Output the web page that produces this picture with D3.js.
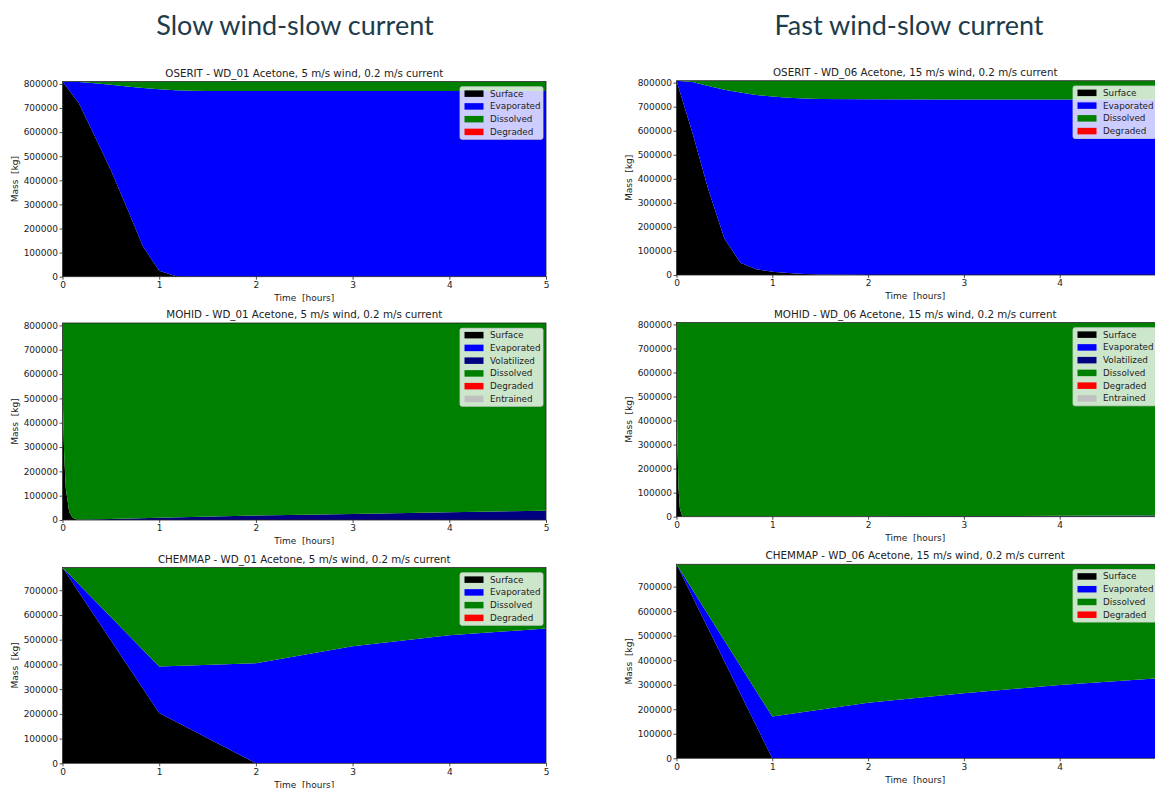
<!DOCTYPE html>
<html>
<head>
<meta charset="utf-8">
<script src="https://cdn.jsdelivr.net/npm/d3@7"></script>
<style>
  html, body { margin: 0; padding: 0; background: #fff; }
  svg { display: block; }
  .tick text { font-family: "DejaVu Sans", sans-serif; fill: #222; }
</style>
</head>
<body>
<svg id="chart" width="1155" height="788"></svg>
<script>
// ---------------- DATA ----------------
const columnHeaders = ["Slow wind-slow current", "Fast wind-slow current"];
const hourTicks = [0, 1, 2, 3, 4, 5];
const massTicks = [0, 100000, 200000, 300000, 400000, 500000, 600000, 700000, 800000];

const keys4 = ["Surface", "Evaporated", "Dissolved", "Degraded"];
const keys6 = ["Surface", "Evaporated", "Volatilized", "Dissolved", "Degraded", "Entrained"];
const seriesColors = {
  Surface: "#000000", Evaporated: "#0000ff", Volatilized: "#000080",
  Dissolved: "#008000", Degraded: "#ff0000", Entrained: "#c0c0c0"
};

// OSERIT - WD_01 (5 m/s wind)
const oseritSlowTime        = [0, 0.167, 0.333, 0.5, 0.667, 0.833, 1, 1.167, 1.333, 1.5, 2, 3, 4, 5];
const oseritSlowSurface     = [810000, 722000, 584000, 443000, 285000, 125000, 25000, 3000, 0, 0, 0, 0, 0, 0];
const oseritSlowEvaporated  = [0, 86000, 219000, 353000, 504000, 658000, 753000, 771000, 772000, 771000, 771000, 771000, 771000, 771000];
const oseritSlowDissolved   = [0, 2000, 7000, 14000, 21000, 27000, 32000, 36000, 38000, 39000, 39000, 39000, 39000, 39000];
const oseritSlowDegraded    = [0, 0, 0, 0, 0, 0, 0, 0, 0, 0, 0, 0, 0, 0];

// OSERIT - WD_06 (15 m/s wind)
const oseritFastTime        = [0, 0.167, 0.333, 0.5, 0.667, 0.833, 1, 1.167, 1.333, 1.5, 2, 3, 4, 5];
const oseritFastSurface     = [808000, 590000, 355000, 152000, 51000, 24000, 14000, 8000, 4000, 2000, 0, 0, 0, 0];
const oseritFastEvaporated  = [0, 213000, 431000, 618000, 708000, 725000, 728000, 729000, 730000, 730000, 731000, 730000, 730000, 730000];
const oseritFastDissolved   = [0, 5000, 22000, 38000, 49000, 59000, 66000, 71000, 74000, 76000, 77000, 78000, 78000, 78000];
const oseritFastDegraded    = [0, 0, 0, 0, 0, 0, 0, 0, 0, 0, 0, 0, 0, 0];

// MOHID - WD_01
const mohidSlowTime         = [0, 0.017, 0.034, 0.069, 0.103, 0.137, 0.17, 0.5, 1, 2, 3, 4, 5];
const mohidSlowSurface      = [540000, 270000, 130000, 34000, 10000, 3000, 0, 0, 0, 0, 0, 0, 0];
const mohidSlowEvaporated   = [0, 0, 0, 0, 0, 0, 0, 0, 0, 0, 0, 0, 0];
const mohidSlowVolatilized  = [0, 0, 0, 0, 500, 1000, 1500, 4000, 9000, 18000, 25000, 32000, 38000];
const mohidSlowDissolved    = [270000, 540000, 680000, 776000, 799500, 806000, 808500, 806000, 801000, 792000, 785000, 778000, 772000];
const mohidSlowDegraded     = [0, 0, 0, 0, 0, 0, 0, 0, 0, 0, 0, 0, 0];
const mohidSlowEntrained    = [0, 0, 0, 0, 0, 0, 0, 0, 0, 0, 0, 0, 0];

// MOHID - WD_06
const mohidFastTime         = [0, 0.0105, 0.021, 0.035, 0.052, 0.07, 0.5, 1, 2, 3, 4, 5];
const mohidFastSurface      = [563000, 285000, 118000, 35000, 10000, 0, 0, 0, 0, 0, 0, 0];
const mohidFastEvaporated   = [0, 0, 0, 0, 0, 0, 0, 0, 0, 0, 0, 0];
const mohidFastVolatilized  = [0, 0, 0, 0, 0, 0, 400, 800, 1800, 2800, 3800, 4800];
const mohidFastDissolved    = [245000, 523000, 690000, 773000, 798000, 808000, 807600, 807200, 806200, 805200, 804200, 803200];
const mohidFastDegraded     = [0, 0, 0, 0, 0, 0, 0, 0, 0, 0, 0, 0];
const mohidFastEntrained    = [0, 0, 0, 0, 0, 0, 0, 0, 0, 0, 0, 0];

// CHEMMAP - WD_01
const chemmapSlowTime       = [0, 1, 2, 3, 4, 5];
const chemmapSlowSurface    = [792000, 203000, 0, 0, 0, 0];
const chemmapSlowEvaporated = [0, 189000, 405000, 473000, 518000, 545000];
const chemmapSlowDissolved  = [0, 400000, 387000, 319000, 274000, 247000];
const chemmapSlowDegraded   = [0, 0, 0, 0, 0, 0];

// CHEMMAP - WD_06
const chemmapFastTime       = [0, 1, 2, 3, 4, 5];
const chemmapFastSurface    = [791000, 0, 0, 0, 0, 0];
const chemmapFastEvaporated = [0, 170000, 227000, 265000, 299000, 326000];
const chemmapFastDissolved  = [0, 621000, 564000, 526000, 492000, 465000];
const chemmapFastDegraded   = [0, 0, 0, 0, 0, 0];

// ---------------- PANELS ----------------
const panels = [
  { title: "OSERIT - WD_01 Acetone, 5 m/s wind, 0.2 m/s current", keys: keys4,
    time: oseritSlowTime, series: [oseritSlowSurface, oseritSlowEvaporated, oseritSlowDissolved, oseritSlowDegraded],
    left: 62.5, right: 546, top: 81.5, bottom: 276.7, xTicks: hourTicks },
  { title: "MOHID - WD_01 Acetone, 5 m/s wind, 0.2 m/s current", keys: keys6,
    time: mohidSlowTime, series: [mohidSlowSurface, mohidSlowEvaporated, mohidSlowVolatilized, mohidSlowDissolved, mohidSlowDegraded, mohidSlowEntrained],
    left: 62.5, right: 546, top: 323, bottom: 520, xTicks: hourTicks },
  { title: "CHEMMAP - WD_01 Acetone, 5 m/s wind, 0.2 m/s current", keys: keys4,
    time: chemmapSlowTime, series: [chemmapSlowSurface, chemmapSlowEvaporated, chemmapSlowDissolved, chemmapSlowDegraded],
    left: 62.5, right: 546, top: 567.5, bottom: 763.3, xTicks: hourTicks },
  { title: "OSERIT - WD_06 Acetone, 15 m/s wind, 0.2 m/s current", keys: keys4,
    time: oseritFastTime, series: [oseritFastSurface, oseritFastEvaporated, oseritFastDissolved, oseritFastDegraded],
    left: 676.5, right: 1155.5, top: 80.7, bottom: 275, xTicks: hourTicks.slice(0, 5) },
  { title: "MOHID - WD_06 Acetone, 15 m/s wind, 0.2 m/s current", keys: keys6,
    time: mohidFastTime, series: [mohidFastSurface, mohidFastEvaporated, mohidFastVolatilized, mohidFastDissolved, mohidFastDegraded, mohidFastEntrained],
    left: 676.5, right: 1155.5, top: 322.5, bottom: 516.7, xTicks: hourTicks.slice(0, 5) },
  { title: "CHEMMAP - WD_06 Acetone, 15 m/s wind, 0.2 m/s current", keys: keys4,
    time: chemmapFastTime, series: [chemmapFastSurface, chemmapFastEvaporated, chemmapFastDissolved, chemmapFastDegraded],
    left: 676.5, right: 1155.5, top: 564.3, bottom: 758.3, xTicks: hourTicks.slice(0, 5) }
];

const svg = d3.select("#chart");
svg.append("rect").attr("width", 1155).attr("height", 788).attr("fill", "#fff");

// column headers
const headerX = [295, 909];
columnHeaders.forEach((h, i) => {
  svg.append("text")
    .attr("x", headerX[i]).attr("y", 35)
    .attr("text-anchor", "middle")
    .attr("font-family", "Lato, 'Open Sans', sans-serif")
    .attr("font-size", 27)
    .attr("fill", "#1d3c4b")
    .text(h);
});

const FONT = "'DejaVu Sans', sans-serif";

panels.forEach((p, pi) => {
  const rows = p.time.map((t, i) => {
    const r = { t };
    p.keys.forEach((k, j) => { r[k] = p.series[j][i]; });
    return r;
  });
  const stacked = d3.stack().keys(p.keys)(rows);
  const yMax = d3.max(stacked[stacked.length - 1], d => d[1]);

  const x = d3.scaleLinear().domain([0, 5]).range([p.left, p.right]);
  const y = d3.scaleLinear().domain([0, yMax]).range([p.bottom, p.top]);

  const g = svg.append("g");
  const clipId = "clip" + pi;
  g.append("clipPath").attr("id", clipId)
    .append("rect").attr("x", p.left).attr("y", p.top)
    .attr("width", p.right - p.left).attr("height", p.bottom - p.top);

  const area = d3.area()
    .x(d => x(d.data.t))
    .y0(d => y(d[0]))
    .y1(d => y(d[1]));

  g.append("g").attr("clip-path", `url(#${clipId})`)
    .selectAll("path").data(stacked).join("path")
    .attr("d", area)
    .attr("fill", d => seriesColors[d.key]);

  // frame
  g.append("rect")
    .attr("x", p.left).attr("y", p.top)
    .attr("width", p.right - p.left).attr("height", p.bottom - p.top)
    .attr("fill", "none").attr("stroke", "#222").attr("stroke-width", 0.8);

  // y axis
  const yAxis = d3.axisLeft(y)
    .tickValues(massTicks.filter(v => v <= yMax))
    .tickFormat(d3.format("d"))
    .tickSize(3).tickPadding(1.5);
  const ya = g.append("g").attr("transform", `translate(${p.left},0)`).call(yAxis);
  ya.select(".domain").remove();
  ya.selectAll(".tick line").attr("stroke", "#222").attr("stroke-width", 0.8);
  ya.selectAll(".tick text").attr("font-size", 9).attr("font-family", FONT);

  // x axis
  const xAxis = d3.axisBottom(x).tickValues(p.xTicks).tickFormat(d3.format("d"))
    .tickSize(3).tickPadding(2);
  const xa = g.append("g").attr("transform", `translate(0,${p.bottom})`).call(xAxis);
  xa.select(".domain").remove();
  xa.selectAll(".tick line").attr("stroke", "#222").attr("stroke-width", 0.8);
  xa.selectAll(".tick text").attr("font-size", 9).attr("font-family", FONT);

  const cx = (p.left + (pi < 3 ? p.right : 1154)) / 2;

  // title
  g.append("text")
    .attr("x", cx).attr("y", p.top - 5)
    .attr("text-anchor", "middle").attr("font-family", FONT)
    .attr("font-size", 10.3).attr("fill", "#222")
    .text(p.title);

  // axis labels
  g.append("text")
    .attr("x", cx).attr("y", p.bottom + 24.3)
    .attr("text-anchor", "middle").attr("font-family", FONT)
    .attr("font-size", 9).attr("fill", "#222")
    .attr("xml:space", "preserve")
    .text("Time  [hours]");
  g.append("text")
    .attr("transform", `translate(${p.left - 44.5},${(p.top + p.bottom) / 2}) rotate(-90)`)
    .attr("text-anchor", "middle").attr("font-family", FONT)
    .attr("font-size", 9).attr("fill", "#222")
    .attr("xml:space", "preserve")
    .text("Mass  [kg]");

  // legend
  const rowH = 12.75;
  const lw = 83;
  const lx = (pi < 3 ? p.right - 3 : 1156) - lw;
  const ly = p.top + 5.3;
  const lh = p.keys.length * rowH + 1.5;
  const lg = g.append("g");
  lg.append("rect")
    .attr("x", lx).attr("y", ly).attr("width", lw).attr("height", lh)
    .attr("rx", 2).attr("fill", "#fff").attr("fill-opacity", 0.8)
    .attr("stroke", "#d0d0d0").attr("stroke-width", 0.8);
  p.keys.forEach((k, i) => {
    const cy = ly + 6.6 + i * rowH;
    lg.append("rect")
      .attr("x", lx + 4.5).attr("y", cy - 3).attr("width", 19).attr("height", 6.5)
      .attr("fill", seriesColors[k]);
    lg.append("text")
      .attr("x", lx + 30).attr("y", cy + 3.2)
      .attr("font-family", FONT).attr("font-size", 8.8).attr("fill", "#222")
      .text(k);
  });
});
</script>
</body>
</html>
